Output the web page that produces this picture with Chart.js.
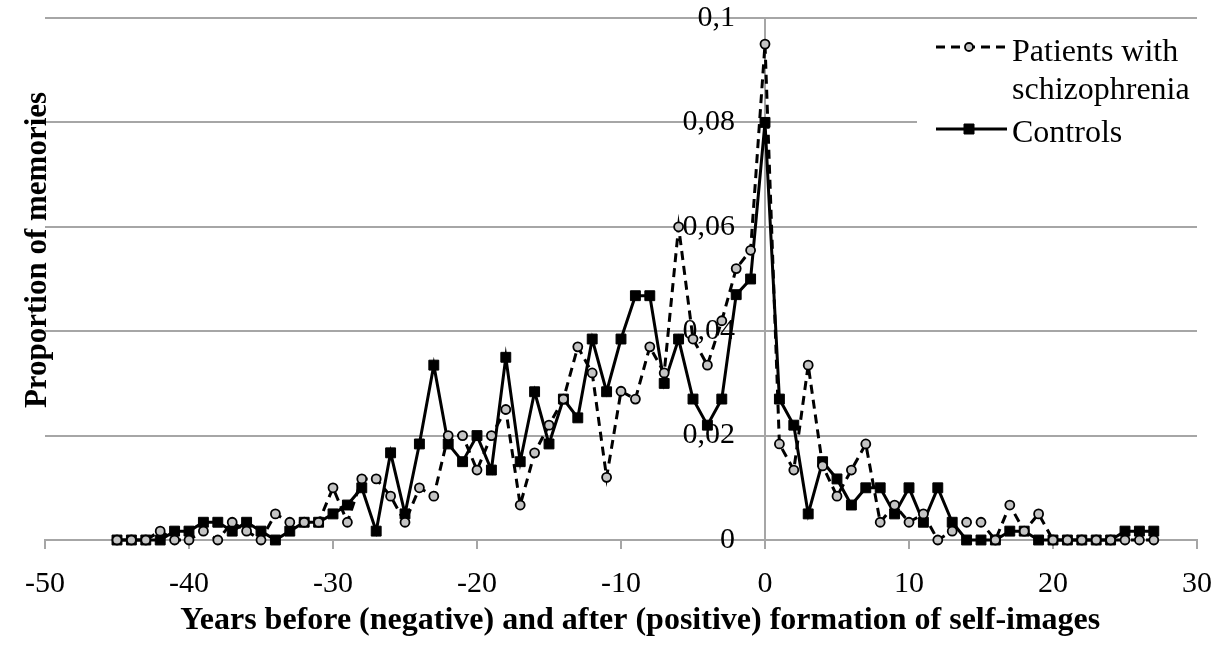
<!DOCTYPE html>
<html>
<head>
<meta charset="utf-8">
<script src="https://cdn.jsdelivr.net/npm/chart.js@4.4.1/dist/chart.umd.min.js"></script>
<style>
    html, body { margin: 0; padding: 0; background: #fff; }
    #wrap { width: 1214px; height: 648px; position: relative; }
</style>
</head>
<body>
<div id="wrap"><canvas id="memChart" width="1214" height="648"></canvas></div>
<script>
// ---- Data ----
const years = [
    -45, -44, -43, -42, -41, -40, -39, -38, -37, -36, -35, -34, -33, -32, -31, -30,
    -29, -28, -27, -26, -25, -24, -23, -22, -21, -20, -19, -18, -17, -16, -15, -14,
    -13, -12, -11, -10, -9, -8, -7, -6, -5, -4, -3, -2, -1, 0,
    1, 2, 3, 4, 5, 6, 7, 8, 9, 10, 11, 12, 13, 14, 15, 16, 17, 18, 19, 20,
    21, 22, 23, 24, 25, 26, 27
];

const patients = [
    0, 0, 0, 0.0017, 0, 0, 0.0017, 0, 0.0034, 0.0017, 0, 0.005, 0.0034, 0.0034, 0.0034, 0.010,
    0.0034, 0.0117, 0.0117, 0.0084, 0.0034, 0.010, 0.0084, 0.020, 0.020, 0.0134, 0.020, 0.025, 0.0067, 0.0167, 0.022, 0.027,
    0.037, 0.032, 0.012, 0.0285, 0.027, 0.037, 0.032, 0.060, 0.0385, 0.0335, 0.042, 0.052, 0.0555, 0.095,
    0.0184, 0.0134, 0.0335, 0.0142, 0.0084, 0.0134, 0.0184, 0.0034, 0.0067, 0.0034, 0.005, 0, 0.0017, 0.0034, 0.0034, 0, 0.0067, 0.0017, 0.005, 0,
    0, 0, 0, 0, 0, 0, 0
];

const controls = [
    0, 0, 0, 0, 0.0017, 0.0017, 0.0034, 0.0034, 0.0017, 0.0034, 0.0017, 0, 0.0017, 0.0034, 0.0034, 0.005,
    0.0067, 0.010, 0.0017, 0.0167, 0.005, 0.0184, 0.0335, 0.0184, 0.015, 0.020, 0.0134, 0.035, 0.015, 0.0284, 0.0184, 0.027,
    0.0234, 0.0385, 0.0284, 0.0385, 0.0468, 0.0468, 0.030, 0.0385, 0.027, 0.022, 0.027, 0.047, 0.050, 0.080,
    0.027, 0.022, 0.005, 0.015, 0.0117, 0.0067, 0.010, 0.010, 0.005, 0.010, 0.0034, 0.010, 0.0034, 0, 0, 0, 0.0017, 0.0017, 0, 0,
    0, 0, 0, 0, 0.0017, 0.0017, 0.0017
];

const seriesNames = ['Patients with\nschizophrenia', 'Controls'];
const xTitle = 'Years before (negative) and after (positive) formation of self-images';
const yTitle = 'Proportion of memories';

// ---- Styling ----
const SERIF = '"Liberation Serif", "Times New Roman", serif';
const GRID = '#a6a6a6';

const toPoints = vals => years.map((yr, i) => ({ x: yr, y: vals[i] }));

// y title + boxed legend drawn on the canvas
const extras = {
    id: 'extras',
    afterDatasetsDraw(chart) {
        const ctx = chart.ctx;
        ctx.save();

        // rotated y-axis title
        ctx.translate(38, 250);
        ctx.rotate(-Math.PI / 2);
        ctx.font = 'bold 31px ' + SERIF;
        ctx.fillStyle = '#000';
        ctx.textAlign = 'center';
        ctx.textBaseline = 'middle';
        ctx.fillText(yTitle, 0, 0);
        ctx.restore();

        // legend box
        ctx.save();
        ctx.fillStyle = '#fff';
        ctx.fillRect(917, 26, 280, 136);

        const ds = chart.data.datasets;
        const rows = [
            { d: ds[0], lineY: 47, textY: [53, 91] },
            { d: ds[1], lineY: 129, textY: [134] },
        ];
        rows.forEach(r => {
            ctx.strokeStyle = '#000';
            ctx.lineWidth = r.d.borderWidth;
            ctx.setLineDash(r.d.borderDash || []);
            ctx.beginPath();
            ctx.moveTo(936, r.lineY);
            ctx.lineTo(1007, r.lineY);
            ctx.stroke();
            ctx.setLineDash([]);

            ctx.fillStyle = r.d.pointBackgroundColor;
            ctx.strokeStyle = r.d.pointBorderColor;
            ctx.lineWidth = r.d.pointBorderWidth;
            ctx.beginPath();
            if (r.d.pointStyle === 'rect') {
                ctx.rect(964, r.lineY - 5, 10, 10);
            } else {
                ctx.arc(969, r.lineY, 4, 0, Math.PI * 2);
            }
            ctx.fill();
            ctx.stroke();

            ctx.fillStyle = '#000';
            ctx.font = '32px ' + SERIF;
            ctx.textAlign = 'left';
            ctx.textBaseline = 'middle';
            r.d.label.split('\n').forEach((line, k) => ctx.fillText(line, 1012, r.textY[k]));
        });
        ctx.restore();
    }
};

new Chart(document.getElementById('memChart').getContext('2d'), {
    type: 'line',
    data: {
        datasets: [{
            label: seriesNames[0],
            data: toPoints(patients),
            borderColor: '#000',
            borderWidth: 3,
            borderDash: [9, 6],
            pointStyle: 'circle',
            pointRadius: 4.5,
            pointBackgroundColor: '#c4c4c4',
            pointBorderColor: '#000',
            pointBorderWidth: 1.8,
            tension: 0,
            clip: false,
        }, {
            label: seriesNames[1],
            data: toPoints(controls),
            borderColor: '#000',
            borderWidth: 3,
            pointStyle: 'rect',
            pointRadius: 7,
            pointBackgroundColor: '#000',
            pointBorderColor: '#000',
            pointBorderWidth: 1,
            tension: 0,
            clip: false,
        }]
    },
    options: {
        responsive: false,
        animation: false,
        layout: { padding: { left: 45, right: 17, top: 18, bottom: 8 } },
        plugins: {
            legend: { display: false },
            tooltip: { enabled: false },
        },
        scales: {
            x: {
                type: 'linear',
                min: -50,
                max: 30,
                afterFit: s => { s.height = 100; s.paddingLeft = 0; s.paddingRight = 0; },
                ticks: {
                    stepSize: 10,
                    color: '#000',
                    padding: 17,
                    maxRotation: 0,
                    font: { family: SERIF, size: 30 },
                },
                grid: { drawOnChartArea: false, drawTicks: true, tickLength: 9, color: GRID, lineWidth: 2 },
                border: { color: GRID, width: 2 },
                title: {
                    display: true,
                    // leading spaces nudge the centred title right, as in the original
                    text: '\u2002\u2002\u2009' + xTitle,
                    color: '#000',
                    padding: { top: 0, bottom: 0 },
                    font: { family: SERIF, size: 32, weight: 'bold' },
                },
            },
            y: {
                type: 'linear',
                min: 0,
                max: 0.1,
                position: { x: 0 },
                afterFit: s => { s.paddingTop = 0; s.paddingBottom = 0; },
                ticks: {
                    stepSize: 0.02,
                    color: '#000',
                    padding: 0,
                    font: { family: SERIF, size: 30 },
                    // two en spaces keep the labels clear of the axis line
                    callback: v => String(Number(v.toFixed(2))).replace('.', ',') + '\u2002\u2002',
                },
                grid: { color: GRID, lineWidth: 2, drawTicks: false },
                border: { color: GRID, width: 2 },
            }
        }
    },
    plugins: [extras]
});
</script>
</body>
</html>
